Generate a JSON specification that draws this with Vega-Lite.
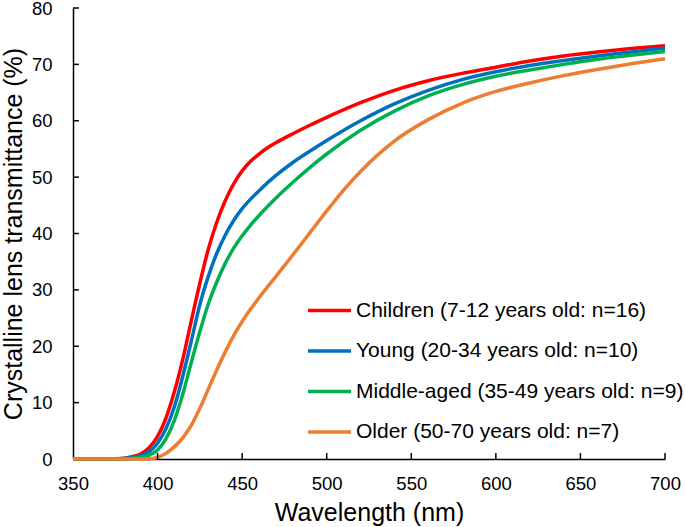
{
  "$schema": "https://vega.github.io/schema/vega-lite/v6.json",
  "autosize": "none",
  "width": 592,
  "height": 451,
  "padding": {"left": 73, "top": 8, "right": 20, "bottom": 68},
  "background": "white",
  "config": {
    "view": {"stroke": null},
    "font": "Liberation Sans",
    "axis": {"grid": false, "ticks": false, "domainColor": "black", "domainWidth": 1.5, "labelColor": "black", "titleColor": "black", "labelFont": "Liberation Sans", "titleFont": "Liberation Sans", "titleFontWeight": "normal", "labelFontSize": 18.5, "titleFontSize": 25}
  },
  "datasets": {
    "curves": [
      {"wavelength": 350, "transmittance": 0, "group": "Children (7-12 years old: n=16)"},
      {"wavelength": 360, "transmittance": 0, "group": "Children (7-12 years old: n=16)"},
      {"wavelength": 370, "transmittance": 0, "group": "Children (7-12 years old: n=16)"},
      {"wavelength": 375, "transmittance": 0.05, "group": "Children (7-12 years old: n=16)"},
      {"wavelength": 380, "transmittance": 0.15, "group": "Children (7-12 years old: n=16)"},
      {"wavelength": 385, "transmittance": 0.4, "group": "Children (7-12 years old: n=16)"},
      {"wavelength": 390, "transmittance": 0.9, "group": "Children (7-12 years old: n=16)"},
      {"wavelength": 395, "transmittance": 2.0, "group": "Children (7-12 years old: n=16)"},
      {"wavelength": 400, "transmittance": 4.0, "group": "Children (7-12 years old: n=16)"},
      {"wavelength": 405, "transmittance": 7.3, "group": "Children (7-12 years old: n=16)"},
      {"wavelength": 410, "transmittance": 12, "group": "Children (7-12 years old: n=16)"},
      {"wavelength": 415, "transmittance": 17.8, "group": "Children (7-12 years old: n=16)"},
      {"wavelength": 420, "transmittance": 24.6, "group": "Children (7-12 years old: n=16)"},
      {"wavelength": 425, "transmittance": 31.2, "group": "Children (7-12 years old: n=16)"},
      {"wavelength": 430, "transmittance": 37.2, "group": "Children (7-12 years old: n=16)"},
      {"wavelength": 435, "transmittance": 42, "group": "Children (7-12 years old: n=16)"},
      {"wavelength": 440, "transmittance": 45.8, "group": "Children (7-12 years old: n=16)"},
      {"wavelength": 445, "transmittance": 48.8, "group": "Children (7-12 years old: n=16)"},
      {"wavelength": 450, "transmittance": 51.1, "group": "Children (7-12 years old: n=16)"},
      {"wavelength": 455, "transmittance": 52.8, "group": "Children (7-12 years old: n=16)"},
      {"wavelength": 460, "transmittance": 54.1, "group": "Children (7-12 years old: n=16)"},
      {"wavelength": 465, "transmittance": 55.2, "group": "Children (7-12 years old: n=16)"},
      {"wavelength": 470, "transmittance": 56.1, "group": "Children (7-12 years old: n=16)"},
      {"wavelength": 480, "transmittance": 57.7, "group": "Children (7-12 years old: n=16)"},
      {"wavelength": 490, "transmittance": 59.2, "group": "Children (7-12 years old: n=16)"},
      {"wavelength": 500, "transmittance": 60.6, "group": "Children (7-12 years old: n=16)"},
      {"wavelength": 520, "transmittance": 63.2, "group": "Children (7-12 years old: n=16)"},
      {"wavelength": 540, "transmittance": 65.4, "group": "Children (7-12 years old: n=16)"},
      {"wavelength": 560, "transmittance": 67.1, "group": "Children (7-12 years old: n=16)"},
      {"wavelength": 580, "transmittance": 68.4, "group": "Children (7-12 years old: n=16)"},
      {"wavelength": 600, "transmittance": 69.5, "group": "Children (7-12 years old: n=16)"},
      {"wavelength": 620, "transmittance": 70.6, "group": "Children (7-12 years old: n=16)"},
      {"wavelength": 640, "transmittance": 71.5, "group": "Children (7-12 years old: n=16)"},
      {"wavelength": 660, "transmittance": 72.2, "group": "Children (7-12 years old: n=16)"},
      {"wavelength": 680, "transmittance": 72.8, "group": "Children (7-12 years old: n=16)"},
      {"wavelength": 700, "transmittance": 73.3, "group": "Children (7-12 years old: n=16)"},

      {"wavelength": 350, "transmittance": 0, "group": "Young (20-34 years old: n=10)"},
      {"wavelength": 360, "transmittance": 0, "group": "Young (20-34 years old: n=10)"},
      {"wavelength": 370, "transmittance": 0, "group": "Young (20-34 years old: n=10)"},
      {"wavelength": 380, "transmittance": 0.1, "group": "Young (20-34 years old: n=10)"},
      {"wavelength": 385, "transmittance": 0.25, "group": "Young (20-34 years old: n=10)"},
      {"wavelength": 390, "transmittance": 0.6, "group": "Young (20-34 years old: n=10)"},
      {"wavelength": 395, "transmittance": 1.3, "group": "Young (20-34 years old: n=10)"},
      {"wavelength": 400, "transmittance": 2.8, "group": "Young (20-34 years old: n=10)"},
      {"wavelength": 405, "transmittance": 5.4, "group": "Young (20-34 years old: n=10)"},
      {"wavelength": 410, "transmittance": 9.3, "group": "Young (20-34 years old: n=10)"},
      {"wavelength": 415, "transmittance": 14.8, "group": "Young (20-34 years old: n=10)"},
      {"wavelength": 420, "transmittance": 21, "group": "Young (20-34 years old: n=10)"},
      {"wavelength": 425, "transmittance": 27.4, "group": "Young (20-34 years old: n=10)"},
      {"wavelength": 430, "transmittance": 32.4, "group": "Young (20-34 years old: n=10)"},
      {"wavelength": 435, "transmittance": 36.5, "group": "Young (20-34 years old: n=10)"},
      {"wavelength": 440, "transmittance": 39.7, "group": "Young (20-34 years old: n=10)"},
      {"wavelength": 445, "transmittance": 42.3, "group": "Young (20-34 years old: n=10)"},
      {"wavelength": 450, "transmittance": 44.4, "group": "Young (20-34 years old: n=10)"},
      {"wavelength": 455, "transmittance": 46.1, "group": "Young (20-34 years old: n=10)"},
      {"wavelength": 460, "transmittance": 47.6, "group": "Young (20-34 years old: n=10)"},
      {"wavelength": 470, "transmittance": 50.3, "group": "Young (20-34 years old: n=10)"},
      {"wavelength": 480, "transmittance": 52.6, "group": "Young (20-34 years old: n=10)"},
      {"wavelength": 490, "transmittance": 54.6, "group": "Young (20-34 years old: n=10)"},
      {"wavelength": 500, "transmittance": 56.5, "group": "Young (20-34 years old: n=10)"},
      {"wavelength": 520, "transmittance": 60, "group": "Young (20-34 years old: n=10)"},
      {"wavelength": 540, "transmittance": 63, "group": "Young (20-34 years old: n=10)"},
      {"wavelength": 560, "transmittance": 65.4, "group": "Young (20-34 years old: n=10)"},
      {"wavelength": 580, "transmittance": 67.3, "group": "Young (20-34 years old: n=10)"},
      {"wavelength": 600, "transmittance": 68.7, "group": "Young (20-34 years old: n=10)"},
      {"wavelength": 620, "transmittance": 69.8, "group": "Young (20-34 years old: n=10)"},
      {"wavelength": 640, "transmittance": 70.7, "group": "Young (20-34 years old: n=10)"},
      {"wavelength": 660, "transmittance": 71.5, "group": "Young (20-34 years old: n=10)"},
      {"wavelength": 680, "transmittance": 72.2, "group": "Young (20-34 years old: n=10)"},
      {"wavelength": 700, "transmittance": 72.9, "group": "Young (20-34 years old: n=10)"},

      {"wavelength": 350, "transmittance": 0, "group": "Middle-aged (35-49 years old: n=9)"},
      {"wavelength": 360, "transmittance": 0, "group": "Middle-aged (35-49 years old: n=9)"},
      {"wavelength": 370, "transmittance": 0, "group": "Middle-aged (35-49 years old: n=9)"},
      {"wavelength": 380, "transmittance": 0.02, "group": "Middle-aged (35-49 years old: n=9)"},
      {"wavelength": 385, "transmittance": 0.1, "group": "Middle-aged (35-49 years old: n=9)"},
      {"wavelength": 390, "transmittance": 0.3, "group": "Middle-aged (35-49 years old: n=9)"},
      {"wavelength": 395, "transmittance": 0.7, "group": "Middle-aged (35-49 years old: n=9)"},
      {"wavelength": 400, "transmittance": 1.6, "group": "Middle-aged (35-49 years old: n=9)"},
      {"wavelength": 405, "transmittance": 3.6, "group": "Middle-aged (35-49 years old: n=9)"},
      {"wavelength": 410, "transmittance": 6.9, "group": "Middle-aged (35-49 years old: n=9)"},
      {"wavelength": 415, "transmittance": 11.6, "group": "Middle-aged (35-49 years old: n=9)"},
      {"wavelength": 420, "transmittance": 17.2, "group": "Middle-aged (35-49 years old: n=9)"},
      {"wavelength": 425, "transmittance": 22.6, "group": "Middle-aged (35-49 years old: n=9)"},
      {"wavelength": 430, "transmittance": 27.5, "group": "Middle-aged (35-49 years old: n=9)"},
      {"wavelength": 435, "transmittance": 31.4, "group": "Middle-aged (35-49 years old: n=9)"},
      {"wavelength": 440, "transmittance": 34.7, "group": "Middle-aged (35-49 years old: n=9)"},
      {"wavelength": 445, "transmittance": 37.4, "group": "Middle-aged (35-49 years old: n=9)"},
      {"wavelength": 450, "transmittance": 39.6, "group": "Middle-aged (35-49 years old: n=9)"},
      {"wavelength": 455, "transmittance": 41.5, "group": "Middle-aged (35-49 years old: n=9)"},
      {"wavelength": 460, "transmittance": 43.2, "group": "Middle-aged (35-49 years old: n=9)"},
      {"wavelength": 470, "transmittance": 46.3, "group": "Middle-aged (35-49 years old: n=9)"},
      {"wavelength": 480, "transmittance": 49.1, "group": "Middle-aged (35-49 years old: n=9)"},
      {"wavelength": 490, "transmittance": 51.7, "group": "Middle-aged (35-49 years old: n=9)"},
      {"wavelength": 500, "transmittance": 54.1, "group": "Middle-aged (35-49 years old: n=9)"},
      {"wavelength": 520, "transmittance": 58.3, "group": "Middle-aged (35-49 years old: n=9)"},
      {"wavelength": 540, "transmittance": 61.7, "group": "Middle-aged (35-49 years old: n=9)"},
      {"wavelength": 560, "transmittance": 64.4, "group": "Middle-aged (35-49 years old: n=9)"},
      {"wavelength": 580, "transmittance": 66.4, "group": "Middle-aged (35-49 years old: n=9)"},
      {"wavelength": 600, "transmittance": 67.9, "group": "Middle-aged (35-49 years old: n=9)"},
      {"wavelength": 620, "transmittance": 69.0, "group": "Middle-aged (35-49 years old: n=9)"},
      {"wavelength": 640, "transmittance": 70.0, "group": "Middle-aged (35-49 years old: n=9)"},
      {"wavelength": 660, "transmittance": 70.9, "group": "Middle-aged (35-49 years old: n=9)"},
      {"wavelength": 680, "transmittance": 71.6, "group": "Middle-aged (35-49 years old: n=9)"},
      {"wavelength": 700, "transmittance": 72.3, "group": "Middle-aged (35-49 years old: n=9)"},

      {"wavelength": 350, "transmittance": 0, "group": "Older (50-70 years old: n=7)"},
      {"wavelength": 370, "transmittance": 0, "group": "Older (50-70 years old: n=7)"},
      {"wavelength": 390, "transmittance": 0, "group": "Older (50-70 years old: n=7)"},
      {"wavelength": 395, "transmittance": 0.05, "group": "Older (50-70 years old: n=7)"},
      {"wavelength": 400, "transmittance": 0.3, "group": "Older (50-70 years old: n=7)"},
      {"wavelength": 405, "transmittance": 1.0, "group": "Older (50-70 years old: n=7)"},
      {"wavelength": 410, "transmittance": 2.2, "group": "Older (50-70 years old: n=7)"},
      {"wavelength": 415, "transmittance": 3.8, "group": "Older (50-70 years old: n=7)"},
      {"wavelength": 420, "transmittance": 6.0, "group": "Older (50-70 years old: n=7)"},
      {"wavelength": 425, "transmittance": 9.0, "group": "Older (50-70 years old: n=7)"},
      {"wavelength": 430, "transmittance": 12.4, "group": "Older (50-70 years old: n=7)"},
      {"wavelength": 435, "transmittance": 15.8, "group": "Older (50-70 years old: n=7)"},
      {"wavelength": 440, "transmittance": 19.0, "group": "Older (50-70 years old: n=7)"},
      {"wavelength": 445, "transmittance": 21.9, "group": "Older (50-70 years old: n=7)"},
      {"wavelength": 450, "transmittance": 24.4, "group": "Older (50-70 years old: n=7)"},
      {"wavelength": 455, "transmittance": 26.6, "group": "Older (50-70 years old: n=7)"},
      {"wavelength": 460, "transmittance": 28.6, "group": "Older (50-70 years old: n=7)"},
      {"wavelength": 470, "transmittance": 32.4, "group": "Older (50-70 years old: n=7)"},
      {"wavelength": 480, "transmittance": 36.2, "group": "Older (50-70 years old: n=7)"},
      {"wavelength": 490, "transmittance": 40.1, "group": "Older (50-70 years old: n=7)"},
      {"wavelength": 500, "transmittance": 44.0, "group": "Older (50-70 years old: n=7)"},
      {"wavelength": 510, "transmittance": 47.7, "group": "Older (50-70 years old: n=7)"},
      {"wavelength": 520, "transmittance": 51.0, "group": "Older (50-70 years old: n=7)"},
      {"wavelength": 530, "transmittance": 53.9, "group": "Older (50-70 years old: n=7)"},
      {"wavelength": 540, "transmittance": 56.4, "group": "Older (50-70 years old: n=7)"},
      {"wavelength": 560, "transmittance": 60.2, "group": "Older (50-70 years old: n=7)"},
      {"wavelength": 580, "transmittance": 63.1, "group": "Older (50-70 years old: n=7)"},
      {"wavelength": 600, "transmittance": 65.2, "group": "Older (50-70 years old: n=7)"},
      {"wavelength": 620, "transmittance": 66.7, "group": "Older (50-70 years old: n=7)"},
      {"wavelength": 640, "transmittance": 68.0, "group": "Older (50-70 years old: n=7)"},
      {"wavelength": 660, "transmittance": 69.1, "group": "Older (50-70 years old: n=7)"},
      {"wavelength": 680, "transmittance": 70.1, "group": "Older (50-70 years old: n=7)"},
      {"wavelength": 700, "transmittance": 71, "group": "Older (50-70 years old: n=7)"}
    ],
    "xticks": [{"tick": 400}, {"tick": 450}, {"tick": 500}, {"tick": 550}, {"tick": 600}, {"tick": 650}, {"tick": 700}],
    "yticks": [{"tick": 10}, {"tick": 20}, {"tick": 30}, {"tick": 40}, {"tick": 50}, {"tick": 60}, {"tick": 70}, {"tick": 80}]
  },
  "layer": [
    {
      "data": {"name": "curves"},
      "mark": {"type": "line", "interpolate": "monotone", "strokeWidth": 3.5, "clip": false},
      "encoding": {
        "x": {
          "field": "wavelength", "type": "quantitative",
          "scale": {"domain": [350, 700], "nice": false, "zero": false},
          "axis": {"title": "Wavelength (nm)", "values": [350, 400, 450, 500, 550, 600, 650, 700], "labelPadding": 15, "titlePadding": 8, "labelFlush": false}
        },
        "y": {
          "field": "transmittance", "type": "quantitative",
          "scale": {"domain": [0, 80], "nice": false},
          "axis": {"title": "Crystalline lens transmittance (%)", "values": [0, 10, 20, 30, 40, 50, 60, 70, 80], "labelPadding": 21, "titlePadding": 5, "labelFlush": false}
        },
        "color": {
          "field": "group", "type": "nominal",
          "scale": {
            "domain": ["Children (7-12 years old: n=16)", "Young (20-34 years old: n=10)", "Middle-aged (35-49 years old: n=9)", "Older (50-70 years old: n=7)"],
            "range": ["#FF0000", "#0070C0", "#00B050", "#ED7D31"]
          },
          "legend": {
            "title": null, "orient": "none", "legendX": 233, "legendY": 279,
            "symbolType": "stroke", "symbolSize": 1849, "symbolStrokeWidth": 3.5,
            "labelFontSize": 21, "labelFont": "Liberation Sans", "labelColor": "black", "labelOffset": 3,
            "rowPadding": 6.5, "padding": 0, "labelLimit": 400
          }
        },
        "order": {"field": "wavelength", "type": "quantitative"}
      }
    },
    {
      "data": {"name": "xticks"},
      "mark": {"type": "rule", "color": "black", "strokeWidth": 1.5},
      "encoding": {
        "x": {"field": "tick", "type": "quantitative"},
        "y": {"datum": 0},
        "y2": {"datum": 1.06}
      }
    },
    {
      "data": {"name": "yticks"},
      "mark": {"type": "rule", "color": "black", "strokeWidth": 1.5},
      "encoding": {
        "y": {"field": "tick", "type": "quantitative"},
        "x": {"datum": 350},
        "x2": {"datum": 353.5}
      }
    }
  ]
}
